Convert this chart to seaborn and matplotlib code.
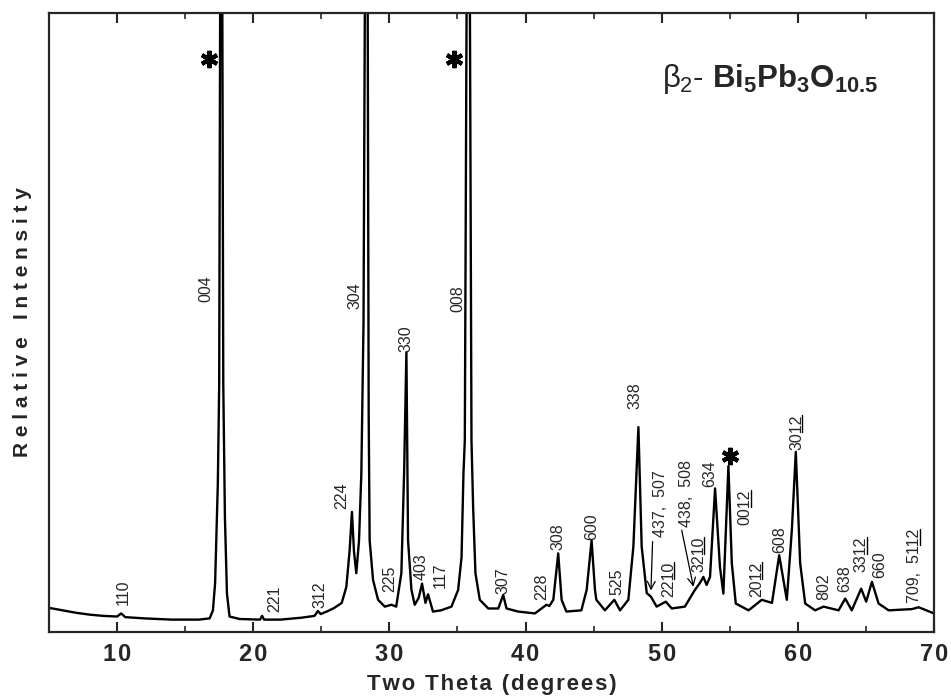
import matplotlib
matplotlib.use('Agg')
import matplotlib.pyplot as plt
import seaborn as sns
import pandas as pd

two_theta = [5.0, 6.0, 7.0, 8.0, 9.0, 10.0, 10.3, 10.6, 12.0, 14.0, 16.0, 16.8,
             17.04, 17.2, 17.4, 17.5, 17.65, 17.8, 17.92, 18.07, 18.26, 19.0,
             20.5, 20.65, 20.8, 22.0, 23.5, 24.5, 24.75, 24.95, 25.5, 25.96,
             26.5, 26.84, 27.08, 27.25, 27.4, 27.57, 27.77, 27.94, 28.1, 28.33,
             28.48, 28.55, 28.8, 29.17, 29.66, 30.15, 30.5, 30.88, 31.08, 31.25,
             31.37, 31.62, 31.86, 32.15, 32.4, 32.65, 32.84, 33.2, 33.8, 34.56,
             35.05, 35.3, 35.44, 35.54, 35.8, 36.03, 36.15, 36.32, 36.64, 37.26,
             38.0, 38.36, 38.6, 39.46, 40.69, 41.54, 41.75, 42.04, 42.4, 42.65,
             43.0, 44.1, 44.49, 44.85, 45.1, 45.2, 45.83, 46.52, 46.94, 47.55,
             47.92, 48.29, 48.53, 48.9, 49.21, 49.63, 50.3, 50.74, 51.7, 52.44,
             52.8, 53.06, 53.3, 53.55, 53.92, 54.28, 54.53, 54.9, 55.15, 55.44,
             56.38, 57.35, 58.1, 58.63, 59.19, 59.56, 59.85, 60.17, 60.54, 61.27,
             61.89, 62.99, 63.48, 63.96, 64.65, 65.02, 65.44, 65.93, 66.67, 68.38,
             68.87, 70.0]
intensity = [3.9, 3.5, 3.1, 2.8, 2.6, 2.5, 3.0, 2.4, 2.2, 2.0, 2.0, 2.2,
             3.5, 7.9, 24.0, 40.0, 170.0, 40.0, 18.6, 6.2, 2.5, 2.1,
             2.0, 2.6, 2.0, 2.0, 2.3, 2.6, 3.4, 2.9, 3.4, 3.9,
             4.7, 7.3, 13.2, 19.4, 13.0, 9.5, 14.8, 25.6, 50.0, 170.0,
             35.0, 14.8, 8.4, 5.2, 4.1, 4.4, 4.1, 9.5, 25.6, 45.2,
             14.8, 6.8, 4.4, 5.5, 7.8, 4.7, 6.1, 3.3, 3.5, 4.1,
             6.8, 12.1, 25.6, 31.0, 170.0, 31.0, 20.2, 9.5, 5.2, 3.8,
             3.8, 6.0, 3.8, 3.3, 3.0, 4.4, 4.2, 5.2, 12.7, 5.2,
             3.3, 3.5, 6.8, 14.8, 6.8, 5.2, 3.5, 5.2, 3.5, 5.2,
             13.8, 33.1, 13.8, 6.3, 5.7, 4.1, 4.9, 3.8, 4.1, 6.8,
             7.9, 8.9, 7.6, 8.9, 23.2, 10.5, 6.2, 26.8, 11.1, 4.6,
             3.5, 5.2, 4.7, 12.4, 5.2, 16.5, 29.1, 11.1, 4.6, 3.5,
             4.1, 3.5, 5.4, 3.5, 7.0, 4.9, 8.1, 4.6, 3.5, 3.7,
             4.0, 3.0]

# --- peak index labels (x centre, y of the lower end of the rotated text) ---
label_text = ['110', '004', '221', '312', '224', '304', '225', '330', '403', '117',
              '008', '307', '228', '308', '600', '525', '338', '437,  507',
              '2210', '438,  508', '3210', '634', '0012',
              '2012', '608', '3012', '802', '638', '3312',
              '660', '709,  5112']
# number of trailing characters that are underlined (two-digit index)
label_underline = [0, 0, 0, 0, 0, 0, 0, 0, 0, 0,
                   0, 0, 0, 0, 0, 0, 0, 0,
                   2, 0, 2, 0, 2,
                   2, 0, 2, 0, 0, 2,
                   0, 2]
label_x = [10.49, 16.54, 21.57, 24.93, 26.47, 27.45, 30.02, 31.25, 32.35, 33.7,
           35.0, 38.36, 41.18, 42.35, 44.85, 46.69, 48.04, 49.9,
           50.49, 51.84, 52.74, 53.55, 56.12,
           56.99, 58.7, 59.93, 61.89, 63.48, 64.65,
           66.05, 68.6]
label_y = [4.35, 53.3, 3.3, 3.9, 19.95, 52.2, 6.5, 45.2, 8.4, 7.05,
           51.7, 6.2, 5.2, 13.2, 14.8, 6.0, 36.1, 15.4,
           5.7, 17.0, 9.7, 23.4, 17.3,
           5.7, 12.7, 29.4, 5.2, 6.5, 9.7,
           8.7, 4.7]

# reflections marked with an asterisk
star_x = [16.75, 34.77, 55.05]
star_y = [92.6, 92.6, 28.4]

# arrows pointing at the weak 437/507 and 438/508 reflections
arrow_tail = [(49.33, 14.6), (51.47, 16.45)]
arrow_head = [(49.21, 6.7), (52.33, 7.3)]

x_major = [10, 20, 30, 40, 50, 60, 70]
x_minor = [15, 25, 35, 45, 55, 65]

LABEL_SIZE = 11.5
FAMILY = ['Liberation Sans', 'DejaVu Sans']


def spaced(s, gap):
    # the scanned titles are typeset with wide letter spacing
    return gap.join(s)


sns.set_style('ticks')
plt.rcParams['font.family'] = FAMILY
plt.rcParams['mathtext.fontset'] = 'custom'
plt.rcParams['mathtext.rm'] = 'Liberation Sans'
plt.rcParams['mathtext.it'] = 'Liberation Sans'
plt.rcParams['mathtext.bf'] = 'Liberation Sans:bold'

df = pd.DataFrame({'two_theta': two_theta, 'intensity': intensity})

fig = plt.figure(figsize=(9.51, 6.99), dpi=100)
ax = fig.add_axes([49 / 951, 67 / 699, 885 / 951, 619 / 699])

sns.lineplot(data=df, x='two_theta', y='intensity', ax=ax, color='black',
             linewidth=1.7, sort=False)

texts = []
for t, x, y in zip(label_text, label_x, label_y):
    texts.append(ax.text(x, y, t, rotation=90, ha='center', va='bottom',
                         fontsize=LABEL_SIZE, family=FAMILY))

ax.plot(star_x, star_y, linestyle='none', marker=(6, 2, 0), markersize=12.5,
        markeredgewidth=3.0, color='black')

for (tx, ty), (hx, hy) in zip(arrow_tail, arrow_head):
    ax.annotate('', xy=(hx, hy), xytext=(tx, ty),
                arrowprops=dict(arrowstyle='->', lw=0.9, color='black',
                                shrinkA=0, shrinkB=0, mutation_scale=14))

ax.text(50.0, 88.0, r'$\beta_2$- $\mathbf{Bi_5Pb_3O_{10.5}}$', fontsize=22.5,
        ha='left', va='baseline')

ax.set_xlim(5, 70)
ax.set_ylim(0, 100)
ax.set_xticks(x_major)
ax.set_xticks(x_minor, minor=True)
ax.set_xticklabels([spaced(str(v), '\u200a') for v in x_major], fontsize=17,
                   fontweight='bold')
ax.set_yticks([])
ax.tick_params(axis='x', which='major', direction='in', length=7.5, width=1.5,
               top=True, pad=8)
ax.tick_params(axis='x', which='minor', direction='in', length=4, width=1.2,
               top=True)
for s in ax.spines.values():
    s.set_linewidth(1.6)
    s.set_visible(True)

ax.set_xlabel(spaced('Two Theta (degrees)', '\u200a'), fontsize=16,
              fontweight='bold', labelpad=6)
ax.set_ylabel(spaced('Relative Intensity', ' '), fontsize=15, fontweight='bold',
              labelpad=12)

# underline the two-digit index parts (drawn beside the rotated glyphs)
fig.canvas.draw()
renderer = fig.canvas.get_renderer()
inv = ax.transData.inverted()
for txt, s, n in zip(texts, label_text, label_underline):
    if n == 0:
        continue
    bb = txt.get_window_extent(renderer)
    probe = ax.text(0, 0, s[:-n], fontsize=LABEL_SIZE, family=FAMILY)
    pre = probe.get_window_extent(renderer).width
    probe.set_text(s)
    full = probe.get_window_extent(renderer).width
    probe.remove()
    ux = bb.x1 - 2.0
    (x0, y0), (x1, y1) = inv.transform([(ux, bb.y0 + pre + 0.5),
                                        (ux, bb.y0 + full - 0.5)])
    ax.plot([x0, x1], [y0, y1], color='black', linewidth=1.0)

fig.savefig('out.png', dpi=100)
